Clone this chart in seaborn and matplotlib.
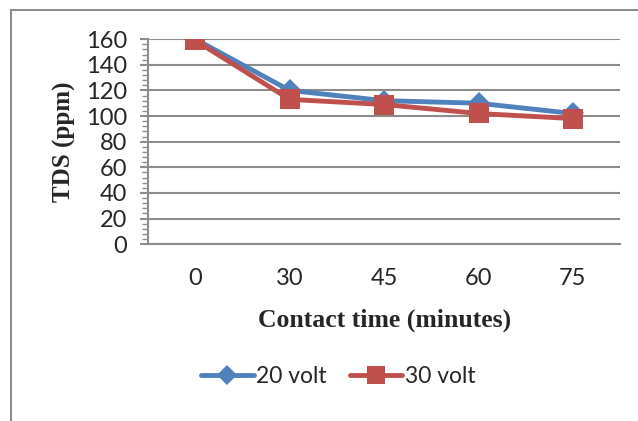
import pandas as pd
import matplotlib.pyplot as plt
import seaborn as sns
from matplotlib.lines import Line2D
from matplotlib.ticker import MultipleLocator

# Data
contact_time = ["0", "30", "45", "60", "75"]
tds_20_volt = [160, 120, 112, 110, 102]
tds_30_volt = [159, 113, 109, 102, 98]

df = pd.DataFrame({
    "time": contact_time * 2,
    "tds": tds_20_volt + tds_30_volt,
    "series": ["20 volt"] * len(contact_time) + ["30 volt"] * len(contact_time),
})

sns.set_style("white")
plt.rcParams["font.family"] = ["Lato", "DejaVu Sans"]

fig = plt.figure(figsize=(6.38, 4.21), dpi=100)
ax = fig.add_axes([0.232, 0.420, 0.740, 0.487])

palette = {"20 volt": "#4F81BD", "30 volt": "#C0504D"}
sns.lineplot(data=df, x="time", y="tds", hue="series", style="series",
             markers={"20 volt": "D", "30 volt": "s"}, dashes=False,
             palette=palette, linewidth=3.5, markersize=11,
             markeredgewidth=0, ax=ax, legend=False, sort=False)
# bigger squares for the 30 volt series
ax.lines[1].set_markersize(14)

ax.set_xlim(-0.5, 4.5)
ax.set_ylim(0, 160)
ax.yaxis.set_major_locator(MultipleLocator(20))
ax.yaxis.set_minor_locator(MultipleLocator(4))
ax.grid(axis="y", color="#8c8c8c", linewidth=1.5)
ax.set_axisbelow(True)

for side in ["top", "right"]:
    ax.spines[side].set_visible(False)
for side in ["left", "bottom"]:
    ax.spines[side].set_color("#8c8c8c")
    ax.spines[side].set_linewidth(1.5)

ax.set_xticks(range(len(contact_time)))
ax.set_xticklabels(contact_time)
ax.set_xticks([i - 0.5 for i in range(len(contact_time) + 1)], minor=True)
ax.tick_params(axis="x", which="major", length=0, labelsize=17, pad=17)
ax.tick_params(axis="x", which="minor", length=6, width=1.5, color="#8c8c8c", direction="out")
ax.tick_params(axis="y", which="major", length=6, width=1.5, color="#8c8c8c",
               direction="out", left=True, labelsize=17, pad=9)
ax.tick_params(axis="y", which="minor", length=4, width=1, color="#8c8c8c",
               direction="out", left=True)

ax.set_xlabel("Contact time (minutes)", family="Liberation Serif",
              fontweight="bold", fontsize=18.5, labelpad=14)
ax.set_ylabel("TDS (ppm)", family="Liberation Serif",
              fontweight="bold", fontsize=18, labelpad=7)

handles = [
    Line2D([], [], color="#4F81BD", marker="D", markersize=10, linewidth=3.5, markeredgewidth=0),
    Line2D([], [], color="#C0504D", marker="s", markersize=13, linewidth=3.5, markeredgewidth=0),
]
fig.legend(handles, ["20 volt", "30 volt"], loc="center", bbox_to_anchor=(0.53, 0.105),
           ncol=2, frameon=False, fontsize=16.5, handlelength=2.3, handletextpad=0.1,
           columnspacing=1.0)

# outer chart border
fig.add_artist(Line2D([11 / 638, 11 / 638], [0, 1 - 10 / 421], color="#8c8c8c", linewidth=1.5))
fig.add_artist(Line2D([11 / 638, 1], [1 - 10 / 421, 1 - 10 / 421], color="#8c8c8c", linewidth=1.5))

fig.savefig("out.png", dpi=100)
